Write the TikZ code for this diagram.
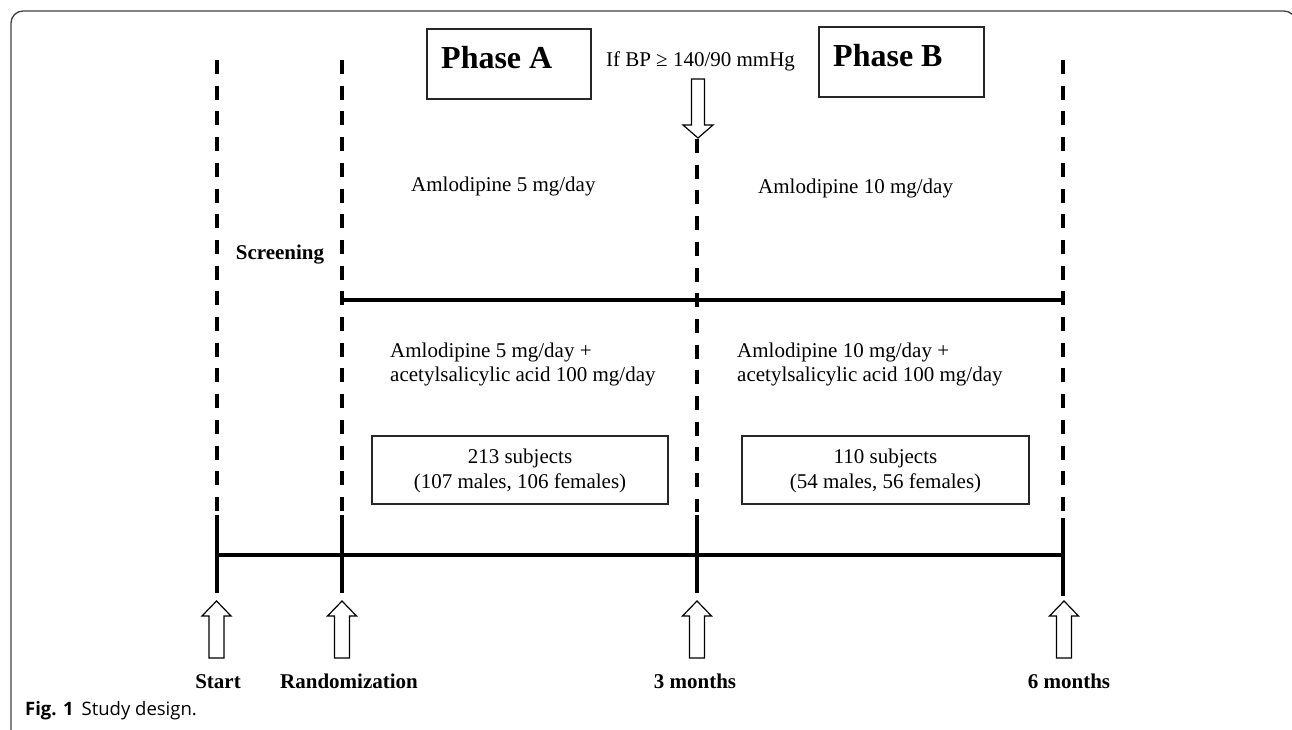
\documentclass[tikz,border=0pt]{standalone}
\usepackage{fontspec}
\setmainfont{Liberation Serif}
\setsansfont{Open Sans}
\begin{document}
\begin{tikzpicture}[x=1pt,y=-1pt,
  txt/.style={font=\fontsize{21}{23.5}\selectfont, inner sep=0pt},
  lbl/.style={font=\fontsize{21}{24}\selectfont\bfseries, inner sep=0pt},
  phasetxt/.style={font=\fontsize{32}{36}\selectfont\bfseries, inner sep=0pt},
  box/.style={draw=black!85, line width=1.2pt, inner sep=0pt},
  dashline/.style={line width=3.5pt, dash pattern=on 14pt off 11.7pt},
  solidline/.style={line width=3.5pt},
  blockarrow/.style={draw=black, line width=1.2pt, fill=white, line join=miter},
  uparr/.pic={\draw[blockarrow] (-7.5,57)--(-7.5,15)--(-14.5,15)--(0,0)--(14.5,15)--(7.5,15)--(7.5,57)--cycle;},
  downarr/.pic={\draw[blockarrow] (-6.5,-59)--(-6.5,-13)--(-15,-13)--(0,0)--(15,-13)--(6.5,-13)--(6.5,-59)--cycle;}
]
\useasboundingbox (0,0) rectangle (1292,729);
\clip (0,0) rectangle (1292,729);
% frame
\draw[line width=1.3pt, black!75, rounded corners=12pt] (11,760) -- (11,11) -- (1296,11) -- (1296,760);

% coordinates for lines
\coordinate (d1t) at (217,60);  \coordinate (d1b) at (217,512);
\coordinate (d2t) at (342,60);  \coordinate (d2b) at (342,512);
\coordinate (d3t) at (697,139); \coordinate (d3b) at (697,512);
\coordinate (d4t) at (1063,60); \coordinate (d4b) at (1063,512);
\coordinate (t1t) at (217,515); \coordinate (t1b) at (217,593);
\coordinate (t2t) at (342,515); \coordinate (t2b) at (342,593);
\coordinate (t3t) at (697,515); \coordinate (t3b) at (697,593);
\coordinate (t4t) at (1063,518); \coordinate (t4b) at (1063,596);
\coordinate (tl1) at (217,555); \coordinate (tl2) at (1063,555);
\coordinate (ml1) at (342,300); \coordinate (ml2) at (1065,300);

\draw[dashline] (d1t) -- (d1b);
\draw[dashline] (d2t) -- (d2b);
\draw[dashline] (d3t) -- (d3b);
\draw[dashline] (d4t) -- (d4b);
\draw[solidline] (t1t) -- (t1b);
\draw[solidline] (t2t) -- (t2b);
\draw[solidline] (t3t) -- (t3b);
\draw[solidline] (t4t) -- (t4b);
\draw[solidline] (tl1) -- (tl2);
\draw[solidline] (ml1) -- (ml2);

% phase boxes
\node[box, minimum width=164pt, minimum height=70pt] (phA) at (509,64) {};
\node[phasetxt, anchor=base west] (phAt) at (441,68) {Phase A};
\node[box, minimum width=165pt, minimum height=70pt] (phB) at (901.5,62) {};
\node[phasetxt, anchor=base west] (phBt) at (833,66) {Phase B};

\node[txt, anchor=base] (bp) at (700.5,66) {If BP ≥ 140/90 mmHg};
\pic at (698,138) {downarr};

\node[txt, anchor=base west] (a5) at (411,191) {Amlodipine 5 mg/day};
\node[txt, anchor=base west] (a10) at (758,193) {Amlodipine 10 mg/day};
\node[lbl, anchor=base] (scr) at (280,259) {Screening};

\node[txt, anchor=base west, align=left] (a5a) at (390,381) {Amlodipine 5 mg/day +\\acetylsalicylic acid 100 mg/day};
\node[txt, anchor=base west, align=left] (a10a) at (737,381) {Amlodipine 10 mg/day +\\acetylsalicylic acid 100 mg/day};

\node[box, minimum width=296pt, minimum height=68pt] (bx1) at (520,470) {};
\node[txt, anchor=base, align=center, font=\fontsize{21}{25}\selectfont] (bx1t) at (520,488) {213 subjects\\(107 males, 106 females)};
\node[box, minimum width=287pt, minimum height=68pt] (bx2) at (885.5,470) {};
\node[txt, anchor=base, align=center, font=\fontsize{21}{25}\selectfont] (bx2t) at (885.5,488) {110 subjects\\(54 males, 56 females)};

\pic at (216.5,601) {uparr};
\pic at (342,601) {uparr};
\pic at (697,601) {uparr};
\pic at (1064,601) {uparr};

\node[lbl, anchor=base] (ls) at (218,688) {Start};
\node[lbl, anchor=base] (lr) at (349,688) {Randomization};
\node[lbl, anchor=base] (l3) at (695,688) {3 months};
\node[lbl, anchor=base] (l6) at (1069,688) {6 months};

\node[anchor=base west, inner sep=0pt, font=\sffamily\fontsize{18.5}{21}\selectfont] (cap) at (25,715) {\textbf{Fig. 1}\hspace{8pt}Study design.};
\end{tikzpicture}
\end{document}
